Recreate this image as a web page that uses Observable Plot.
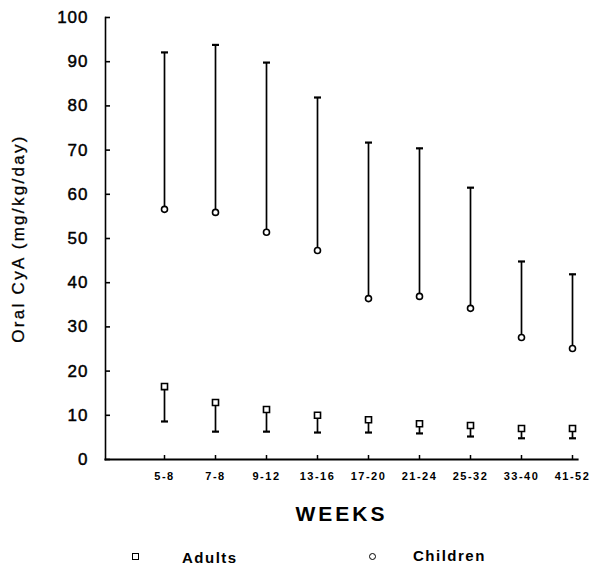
<!DOCTYPE html>
<html>
<head>
<meta charset="utf-8">
<script src="https://cdn.jsdelivr.net/npm/d3@7"></script>
<script src="https://cdn.jsdelivr.net/npm/@observablehq/plot@0.6"></script>
<style>
  html, body { margin: 0; padding: 0; background: #fff; }
  #wrap { width: 604px; position: relative; font-family: "Liberation Sans", Arial, sans-serif; color: #000; }
  svg g[aria-label="y-axis tick label"] text { font-size: 17px; font-weight: normal; stroke: #000; stroke-width: 0.45px; letter-spacing: 1px; }
  svg g[aria-label="y-axis label"] text { font-size: 17px; font-weight: normal; stroke: #000; stroke-width: 0.3px; letter-spacing: 2.3px; }
  svg g[aria-label="x-axis tick label"] text { font-size: 11px; font-weight: bold; letter-spacing: 1.5px; }
  svg g[aria-label="x-axis label"] text { font-size: 21px; font-weight: bold; letter-spacing: 3px; }
  #legend { position: relative; height: 38px; width: 604px; }
  .lg { position: absolute; font-size: 15px; font-weight: bold; letter-spacing: 1.5px; line-height: 1; }
  .sym { position: absolute; box-sizing: border-box; border: 1.6px solid #000; background: #fff; }
</style>
</head>
<body>
<div id="wrap"></div>
<script>
const weeks = ["5-8", "7-8", "9-12", "13-16", "17-20", "21-24", "25-32", "33-40", "41-52"];
const childMean = [56.6, 55.9, 51.4, 47.3, 36.4, 36.9, 34.2, 27.6, 25.1];
const childUpper = [92.1, 93.8, 89.8, 81.9, 71.7, 70.4, 61.5, 44.8, 41.9];
const adultMean = [16.5, 12.9, 11.3, 10.0, 9.0, 8.1, 7.7, 7.0, 7.0];
const adultLower = [8.6, 6.3, 6.3, 6.1, 6.1, 5.9, 5.2, 4.8, 4.8];
const yTicks = [0, 10, 20, 30, 40, 50, 60, 70, 80, 90, 100];
const seriesNames = ["Adults", "Children"];

const children = weeks.map((w, i) => ({week: w, mean: childMean[i], upper: childUpper[i]}));
const adults = weeks.map((w, i) => ({week: w, mean: adultMean[i], lower: adultLower[i]}));

const hline = {
  draw(context, size) {
    const r = Math.sqrt(size / Math.PI);
    context.moveTo(-r, 0);
    context.lineTo(r, 0);
  }
};

const chart = Plot.plot({
  width: 604,
  height: 535,
  marginLeft: 105,
  marginRight: 27,
  marginTop: 17,
  marginBottom: 76,
  style: {fontFamily: "'Liberation Sans', Arial, sans-serif", color: "#000", background: "#fff", overflow: "visible"},
  x: {type: "point", domain: weeks, range: [161, 575], padding: 0, align: 0.5},
  y: {domain: [0, 100]},
  marks: [
    Plot.frame({anchor: "left", strokeWidth: 1.6}),
    Plot.frame({anchor: "bottom", strokeWidth: 2.2}),
    Plot.axisY({ticks: yTicks, tickSize: -5, tickPadding: 22, strokeWidth: 1.6, label: "Oral CyA (mg/kg/day)", labelAnchor: "center", labelArrow: "none", labelOffset: 94}),
    Plot.axisX({tickSize: -4, tickPadding: 17, strokeWidth: 1.5, label: "WEEKS", labelAnchor: "center", labelArrow: "none", labelOffset: 61}),
    Plot.ruleX(children, {x: "week", y1: "mean", y2: "upper", stroke: "#000", strokeWidth: 1.7}),
    Plot.dot(children, {x: "week", y: "upper", symbol: hline, r: 3.5, stroke: "#000", strokeWidth: 2.2}),
    Plot.ruleX(adults, {x: "week", y1: "lower", y2: "mean", stroke: "#000", strokeWidth: 1.7}),
    Plot.dot(adults, {x: "week", y: "lower", symbol: hline, r: 3.5, stroke: "#000", strokeWidth: 2.2}),
    Plot.dot(children, {x: "week", y: "mean", symbol: "circle", r: 3, fill: "#fff", stroke: "#000", strokeWidth: 1.6}),
    Plot.dot(adults, {x: "week", y: "mean", symbol: "square", r: 3.4, fill: "#fff", stroke: "#000", strokeWidth: 1.6})
  ]
});

const wrap = document.getElementById("wrap");
wrap.appendChild(chart);

const legend = document.createElement("div");
legend.id = "legend";
legend.innerHTML = `
  <span class="sym" style="left:132px; top:18px; width:7px; height:7px;"></span>
  <span class="lg" style="left:182px; top:15px;">${seriesNames[0]}</span>
  <span class="sym" style="left:369px; top:18px; width:7px; height:7px; border-radius:50%;"></span>
  <span class="lg" style="left:413px; top:13px;">${seriesNames[1]}</span>
`;
wrap.appendChild(legend);
</script>
</body>
</html>
